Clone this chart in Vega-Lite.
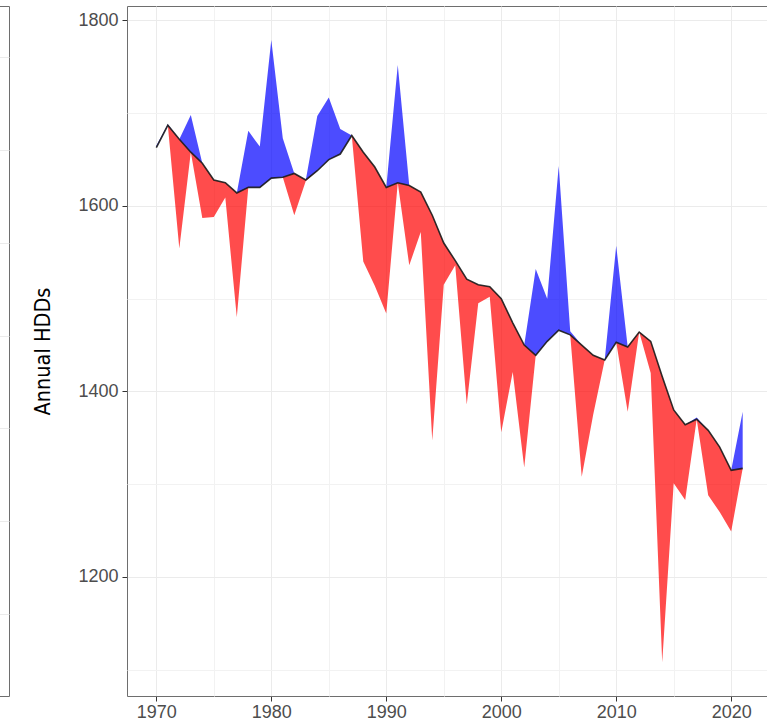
{
  "$schema": "https://vega.github.io/schema/vega-lite/v6.json",
  "padding": {"left": -20, "top": 5, "right": 0, "bottom": 0},
  "background": "white",
  "config": {
    "view": {"stroke": "#6E6E6E", "strokeWidth": 1},
    "axis": {"labelFont": "Liberation Sans", "titleFont": "Liberation Sans"}
  },
  "datasets": {
    "hdd": [
      {"year": 1970, "hdd": 1665, "trend": 1663, "above": 1665, "below": 1663},
      {"year": 1971, "hdd": 1688, "trend": 1687, "above": 1688, "below": 1687},
      {"year": 1972, "hdd": 1554, "trend": 1672, "above": 1672, "below": 1554},
      {"year": 1973, "hdd": 1698, "trend": 1658, "above": 1698, "below": 1658},
      {"year": 1974, "hdd": 1587, "trend": 1646, "above": 1646, "below": 1587},
      {"year": 1975, "hdd": 1588, "trend": 1628, "above": 1628, "below": 1588},
      {"year": 1976, "hdd": 1609, "trend": 1625, "above": 1625, "below": 1609},
      {"year": 1977, "hdd": 1480, "trend": 1614, "above": 1614, "below": 1480},
      {"year": 1978, "hdd": 1681, "trend": 1620, "above": 1681, "below": 1620},
      {"year": 1979, "hdd": 1664, "trend": 1620, "above": 1664, "below": 1620},
      {"year": 1980, "hdd": 1779, "trend": 1630, "above": 1779, "below": 1630},
      {"year": 1981, "hdd": 1673, "trend": 1631, "above": 1673, "below": 1631},
      {"year": 1982, "hdd": 1590, "trend": 1635, "above": 1635, "below": 1590},
      {"year": 1983, "hdd": 1627, "trend": 1628, "above": 1628, "below": 1627},
      {"year": 1984, "hdd": 1697, "trend": 1638, "above": 1697, "below": 1638},
      {"year": 1985, "hdd": 1717, "trend": 1650, "above": 1717, "below": 1650},
      {"year": 1986, "hdd": 1683, "trend": 1656, "above": 1683, "below": 1656},
      {"year": 1987, "hdd": 1676, "trend": 1676, "above": 1676, "below": 1676},
      {"year": 1988, "hdd": 1540, "trend": 1658, "above": 1658, "below": 1540},
      {"year": 1989, "hdd": 1514, "trend": 1642, "above": 1642, "below": 1514},
      {"year": 1990, "hdd": 1484, "trend": 1620, "above": 1620, "below": 1484},
      {"year": 1991, "hdd": 1752, "trend": 1625, "above": 1752, "below": 1625},
      {"year": 1992, "hdd": 1536, "trend": 1622, "above": 1622, "below": 1536},
      {"year": 1993, "hdd": 1572, "trend": 1615, "above": 1615, "below": 1572},
      {"year": 1994, "hdd": 1347, "trend": 1590, "above": 1590, "below": 1347},
      {"year": 1995, "hdd": 1515, "trend": 1560, "above": 1560, "below": 1515},
      {"year": 1996, "hdd": 1536, "trend": 1541, "above": 1541, "below": 1536},
      {"year": 1997, "hdd": 1386, "trend": 1521, "above": 1521, "below": 1386},
      {"year": 1998, "hdd": 1495, "trend": 1515, "above": 1515, "below": 1495},
      {"year": 1999, "hdd": 1502, "trend": 1513, "above": 1513, "below": 1502},
      {"year": 2000, "hdd": 1356, "trend": 1500, "above": 1500, "below": 1356},
      {"year": 2001, "hdd": 1421, "trend": 1474, "above": 1474, "below": 1421},
      {"year": 2002, "hdd": 1318, "trend": 1450, "above": 1450, "below": 1318},
      {"year": 2003, "hdd": 1532, "trend": 1439, "above": 1532, "below": 1439},
      {"year": 2004, "hdd": 1500, "trend": 1454, "above": 1500, "below": 1454},
      {"year": 2005, "hdd": 1643, "trend": 1466, "above": 1643, "below": 1466},
      {"year": 2006, "hdd": 1465, "trend": 1461, "above": 1465, "below": 1461},
      {"year": 2007, "hdd": 1308, "trend": 1450, "above": 1450, "below": 1308},
      {"year": 2008, "hdd": 1375, "trend": 1439, "above": 1439, "below": 1375},
      {"year": 2009, "hdd": 1434, "trend": 1434, "above": 1434, "below": 1434},
      {"year": 2010, "hdd": 1557, "trend": 1453, "above": 1557, "below": 1453},
      {"year": 2011, "hdd": 1378, "trend": 1448, "above": 1448, "below": 1378},
      {"year": 2012, "hdd": 1464, "trend": 1464, "above": 1464, "below": 1464},
      {"year": 2013, "hdd": 1420, "trend": 1454, "above": 1454, "below": 1420},
      {"year": 2014, "hdd": 1108, "trend": 1416, "above": 1416, "below": 1108},
      {"year": 2015, "hdd": 1301, "trend": 1380, "above": 1380, "below": 1301},
      {"year": 2016, "hdd": 1283, "trend": 1364, "above": 1364, "below": 1283},
      {"year": 2017, "hdd": 1372, "trend": 1370, "above": 1372, "below": 1370},
      {"year": 2018, "hdd": 1288, "trend": 1358, "above": 1358, "below": 1288},
      {"year": 2019, "hdd": 1270, "trend": 1340, "above": 1340, "below": 1270},
      {"year": 2020, "hdd": 1249, "trend": 1315, "above": 1315, "below": 1249},
      {"year": 2021, "hdd": 1378, "trend": 1317, "above": 1378, "below": 1317}
    ]
  },
  "hconcat": [
    {
      "width": 28,
      "height": 690,
      "data": {"name": "hdd"},
      "mark": {"type": "point", "opacity": 0, "clip": true, "size": 1},
      "encoding": {
        "y": {
          "field": "trend",
          "type": "quantitative",
          "scale": {"domain": [1011.5, 1755.5], "nice": false, "zero": false},
          "axis": {
            "values": [1100, 1200, 1300, 1400, 1500, 1600, 1700],
            "grid": true,
            "gridColor": "#EBEBEB",
            "labels": false,
            "ticks": false,
            "domain": false,
            "title": null
          }
        }
      }
    },
    {
      "width": 645,
      "height": 690,
      "data": {"name": "hdd"},
      "encoding": {
        "x": {
          "field": "year",
          "type": "quantitative",
          "scale": {"domain": [1967.45, 2023.55], "nice": false, "zero": false},
          "axis": {
            "title": null,
            "values": [1970, 1975, 1980, 1985, 1990, 1995, 2000, 2005, 2010, 2015, 2020],
            "labelExpr": "datum.value % 10 === 0 ? datum.label : ''",
            "format": "d",
            "domain": false,
            "grid": true,
            "gridColor": {"condition": {"test": "datum.value % 10 === 0", "value": "#EBEBEB"}, "value": "#F2F2F2"},
            "gridWidth": 1,
            "tickSize": 5,
            "tickColor": "#333333",
            "tickOpacity": {"condition": {"test": "datum.value % 10 === 0", "value": 1}, "value": 0},
            "labelColor": "#4D4D4D",
            "labelFontSize": 18,
            "labelPadding": 2
          }
        }
      },
      "layer": [
        {
          "mark": {"type": "area", "color": "#0000FF", "opacity": 0.7},
          "encoding": {
            "y": {
              "field": "above",
              "type": "quantitative",
              "scale": {"domain": [1071.6, 1815.6], "nice": false, "zero": false},
              "axis": {
                "title": "Annual HDDs",
                "titleFont": "DejaVu Sans Condensed, sans-serif",
                "titleFontSize": 21.5,
                "titleFontWeight": "normal",
                "titleColor": "#000000",
                "titlePadding": 23,
                "values": [1100, 1200, 1300, 1400, 1500, 1600, 1700, 1800],
                "format": "d",
                "labelExpr": "datum.value % 200 === 0 ? datum.label : ''",
                "domain": false,
                "grid": true,
                "gridColor": {"condition": {"test": "datum.value % 200 === 0", "value": "#EBEBEB"}, "value": "#F2F2F2"},
                "tickSize": 5,
                "tickColor": "#333333",
                "tickOpacity": {"condition": {"test": "datum.value % 200 === 0", "value": 1}, "value": 0},
                "labelColor": "#4D4D4D",
                "labelFontSize": 18,
                "labelPadding": 4
              }
            },
            "y2": {"field": "trend"}
          }
        },
        {
          "mark": {"type": "area", "color": "#FF0000", "opacity": 0.7},
          "encoding": {
            "y": {"field": "below", "type": "quantitative"},
            "y2": {"field": "trend"}
          }
        },
        {
          "mark": {"type": "line", "color": "#1A1A1A", "strokeWidth": 1.6, "opacity": 0.9},
          "encoding": {
            "y": {"field": "trend", "type": "quantitative"}
          }
        }
      ]
    }
  ],
  "spacing": 118,
  "bounds": "flush"
}
